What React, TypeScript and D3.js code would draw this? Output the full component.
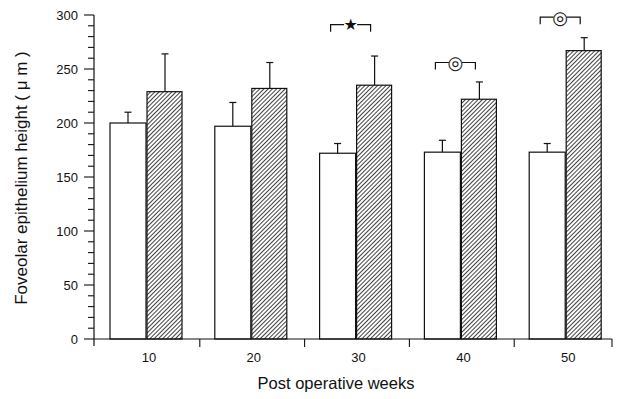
import { useEffect, useRef } from 'react';
import * as d3 from 'd3';

const weeks = ['10', '20', '30', '40', '50'];
const controlMean = [200, 197, 172, 173, 173];
const controlErr = [210, 219, 181, 184, 181];
const treatedMean = [229, 232, 235, 222, 267];
const treatedErr = [264, 256, 262, 238, 279];
const marks = [
  { week: '30', symbol: '★', level: 291 },
  { week: '40', symbol: '◎', level: 256 },
  { week: '50', symbol: '◎', level: 298 },
];
const yTicks = [0, 50, 100, 150, 200, 250, 300];

const W = 622;
const H = 399;

const App = () => {
  const svgRef = useRef<SVGSVGElement>(null);

  useEffect(() => {
    const svg = d3.select(svgRef.current);
    svg.selectAll('*').remove();
    const font = '"Liberation Sans", Arial, sans-serif';

    const x = d3.scaleBand().domain(weeks).range([95, 619]).padding(0);
    const y = d3.scaleLinear().domain([0, 300]).range([339, 15]);
    const barW = 36;
    const whiteX = (w: string) => (x(w) as number) + 15;
    const hatchX = (w: string) => (x(w) as number) + 52;

    // hatch pattern
    const defs = svg.append('defs');
    const pat = defs.append('pattern')
      .attr('id', 'hatch')
      .attr('patternUnits', 'userSpaceOnUse')
      .attr('width', 3)
      .attr('height', 3)
      .attr('patternTransform', 'rotate(45)');
    pat.append('rect').attr('width', 3).attr('height', 3).attr('fill', '#fff');
    pat.append('line')
      .attr('x1', 0).attr('y1', 0).attr('x2', 0).attr('y2', 3)
      .attr('stroke', '#111').attr('stroke-width', 1.6);

    const g = svg.append('g');

    // error bars
    const errs = [
      ...weeks.map((w, i) => ({ cx: whiteX(w) + barW / 2, lo: controlMean[i], hi: controlErr[i] })),
      ...weeks.map((w, i) => ({ cx: hatchX(w) + barW / 2, lo: treatedMean[i], hi: treatedErr[i] })),
    ];
    g.selectAll('line.err').data(errs).enter().append('line')
      .attr('x1', d => d.cx).attr('x2', d => d.cx)
      .attr('y1', d => y(d.lo)).attr('y2', d => y(d.hi))
      .attr('stroke', '#111').attr('stroke-width', 1.2);
    g.selectAll('line.cap').data(errs).enter().append('line')
      .attr('x1', d => d.cx - 3.5).attr('x2', d => d.cx + 3.5)
      .attr('y1', d => y(d.hi)).attr('y2', d => y(d.hi))
      .attr('stroke', '#111').attr('stroke-width', 1.2);

    // bars
    g.selectAll('rect.ctrl').data(weeks).enter().append('rect')
      .attr('x', w => whiteX(w))
      .attr('y', (w, i) => y(controlMean[i]))
      .attr('width', barW)
      .attr('height', (w, i) => y(0) - y(controlMean[i]))
      .attr('fill', '#fff').attr('stroke', '#111').attr('stroke-width', 1.2);
    g.selectAll('rect.trt').data(weeks).enter().append('rect')
      .attr('x', w => hatchX(w))
      .attr('y', (w, i) => y(treatedMean[i]))
      .attr('width', barW - 1)
      .attr('height', (w, i) => y(0) - y(treatedMean[i]))
      .attr('fill', 'url(#hatch)').attr('stroke', '#111').attr('stroke-width', 1.2);

    // significance brackets
    marks.forEach(m => {
      const l = whiteX(m.week) + 11;
      const r = hatchX(m.week) + 14;
      const c = (l + r) / 2;
      const yy = y(m.level);
      const path = d3.path();
      path.moveTo(l, yy + 7); path.lineTo(l, yy); path.lineTo(c - 6.5, yy);
      path.moveTo(c + 6.5, yy); path.lineTo(r, yy); path.lineTo(r, yy + 7);
      g.append('path').attr('d', path.toString())
        .attr('fill', 'none').attr('stroke', '#111').attr('stroke-width', 1.2);
      g.append('text').attr('x', c).attr('y', yy)
        .attr('dy', '0.36em')
        .attr('text-anchor', 'middle')
        .style('font-family', '"DejaVu Sans", sans-serif')
        .style('font-size', m.symbol === '★' ? '16px' : '18px')
        .style('font-weight', 'bold')
        .attr('fill', '#111')
        .text(m.symbol);
    });

    // y axis
    const yAxis = g.append('g');
    yAxis.append('line')
      .attr('x1', 94).attr('x2', 94).attr('y1', y(300)).attr('y2', y(0) + 7)
      .attr('stroke', '#111').attr('stroke-width', 1.2);
    yAxis.selectAll('line.minor').data(d3.range(0, 301, 10)).enter().append('line')
      .attr('x1', d => (d % 50 === 0 ? 84 : 88)).attr('x2', 94)
      .attr('y1', d => y(d)).attr('y2', d => y(d))
      .attr('stroke', '#111').attr('stroke-width', 1.1);
    yAxis.selectAll('text').data(yTicks).enter().append('text')
      .attr('x', 78).attr('y', d => y(d)).attr('dy', '0.35em')
      .attr('text-anchor', 'end')
      .style('font-family', font).style('font-size', '13px')
      .attr('fill', '#111')
      .text(d => d);

    // x axis
    const xAxis = g.append('g');
    xAxis.append('line')
      .attr('x1', 94).attr('x2', 612).attr('y1', y(0)).attr('y2', y(0))
      .attr('stroke', '#111').attr('stroke-width', 1.2);
    const bounds = weeks.slice(1).map(w => x(w) as number).concat([612]);
    xAxis.selectAll('line.tick').data(bounds).enter().append('line')
      .attr('x1', d => d).attr('x2', d => d)
      .attr('y1', y(0)).attr('y2', y(0) + 8)
      .attr('stroke', '#111').attr('stroke-width', 1.1);
    xAxis.selectAll('text').data(weeks).enter().append('text')
      .attr('x', w => (x(w) as number) + 54).attr('y', 362)
      .attr('text-anchor', 'middle')
      .style('font-family', font).style('font-size', '13px')
      .attr('fill', '#111')
      .text(w => w);

    // titles
    svg.append('text')
      .attr('x', 336).attr('y', 389)
      .attr('text-anchor', 'middle')
      .style('font-family', font).style('font-size', '16.5px')
      .attr('fill', '#111')
      .text('Post operative weeks');
    svg.append('text')
      .attr('transform', 'translate(27,178) rotate(-90)')
      .attr('text-anchor', 'middle')
      .style('font-family', font).style('font-size', '17px')
      .attr('fill', '#111')
      .text('Foveolar epithelium height ( μ m )');
  }, []);

  return (
    <svg
      ref={svgRef}
      width={W}
      height={H}
      style={{ position: 'absolute', left: 0, top: 0, background: '#fff' }}
    ></svg>
  );
};

export default App;
